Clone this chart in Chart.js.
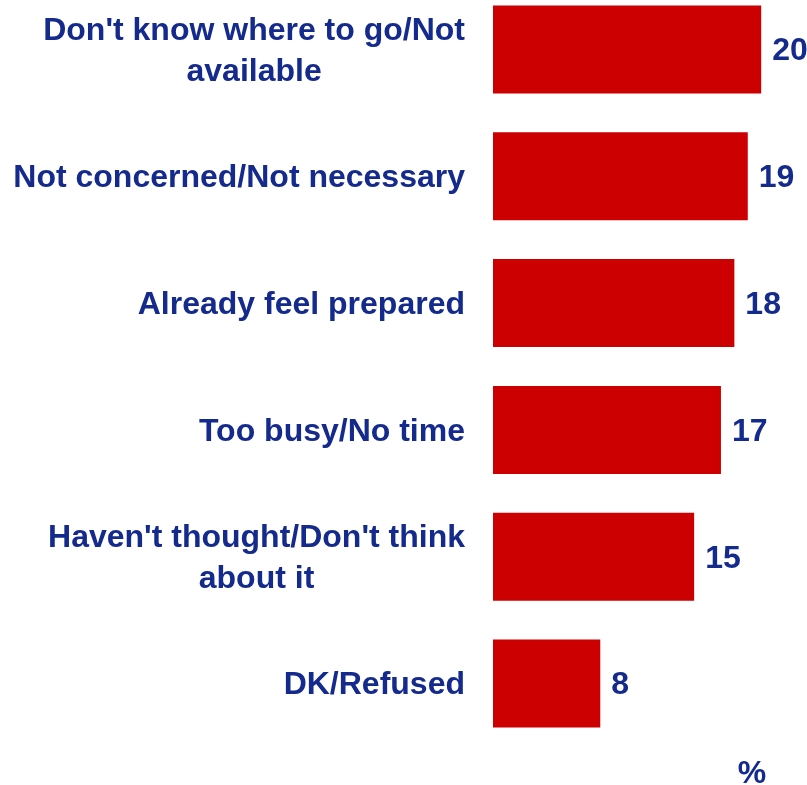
<!DOCTYPE html>
<html lang="en">
<head>
    <meta charset="UTF-8">
    <title>Reasons chart</title>
    <script src="https://cdn.jsdelivr.net/npm/chart.js"></script>
    <style>
        html, body {
            margin: 0;
            padding: 0;
            background: #ffffff;
            overflow: hidden;
        }

        .chart-wrap {
            position: absolute;
            left: 0;
            top: -14px;
            width: 807px;
            height: 800px;
        }
    </style>
</head>
<body>
    <div class="chart-wrap">
        <canvas id="reasonsChart"></canvas>
    </div>

    <script>
        const categories = [
            ["Don't know where to go/Not", 'available'],
            ['Not concerned/Not necessary'],
            ['Already feel prepared'],
            ['Too busy/No time'],
            ["Haven't thought/Don't think", 'about it'],
            ['DK/Refused']
        ];
        const values = [20, 19, 18, 17, 15, 8];
        const unitLabel = '%';

        const textColor = '#142a8c';
        const barColor = '#cc0000';
        const fontFamily = '"Liberation Sans", Arial, sans-serif';
        const fontSize = 32;

        // draws the category names (multi-line ones centred on their own widest line),
        // the value next to each bar and the % unit under the bars
        const labelPlugin = {
            id: 'labelPlugin',
            afterDraw(chart) {
                const ctx = chart.ctx;
                const yScale = chart.scales.y;
                const meta = chart.getDatasetMeta(0);
                ctx.save();
                ctx.font = 'bold ' + fontSize + 'px ' + fontFamily;
                ctx.fillStyle = textColor;
                ctx.textBaseline = 'middle';

                const rightEdge = yScale.right - 28;
                const lineGap = 41;
                const nudge = 2;
                categories.forEach(function(lines, i) {
                    const cy = yScale.getPixelForValue(i) + nudge;
                    const widest = Math.max.apply(null, lines.map(function(l) { return ctx.measureText(l).width; }));
                    const cx = rightEdge - widest / 2;
                    const startY = cy - (lines.length - 1) * lineGap / 2;
                    ctx.textAlign = 'center';
                    lines.forEach(function(l, j) {
                        ctx.fillText(l, cx, startY + j * lineGap);
                    });
                });

                ctx.textAlign = 'left';
                meta.data.forEach(function(bar, i) {
                    ctx.fillText(String(values[i]), bar.x + 11, bar.y + nudge);
                });

                ctx.textAlign = 'center';
                ctx.fillText(unitLabel, 752, chart.chartArea.bottom + 27);
                ctx.restore();
            }
        };

        const ctx = document.getElementById('reasonsChart').getContext('2d');
        new Chart(ctx, {
            type: 'bar',
            data: {
                labels: categories,
                datasets: [{
                    data: values,
                    backgroundColor: barColor,
                    borderWidth: 0,
                    barPercentage: 0.694,
                    categoryPercentage: 1.0
                }]
            },
            options: {
                indexAxis: 'y',
                responsive: true,
                maintainAspectRatio: false,
                animation: false,
                layout: {
                    padding: { left: 0, right: 19, top: 0, bottom: 39 }
                },
                plugins: {
                    legend: { display: false },
                    tooltip: { enabled: false }
                },
                scales: {
                    x: {
                        display: false,
                        min: 0,
                        max: 22
                    },
                    y: {
                        grid: { display: false },
                        border: { display: false },
                        ticks: { display: false },
                        afterFit: function(scale) {
                            scale.width = 493;
                        }
                    }
                }
            },
            plugins: [labelPlugin]
        });
    </script>
</body>
</html>
